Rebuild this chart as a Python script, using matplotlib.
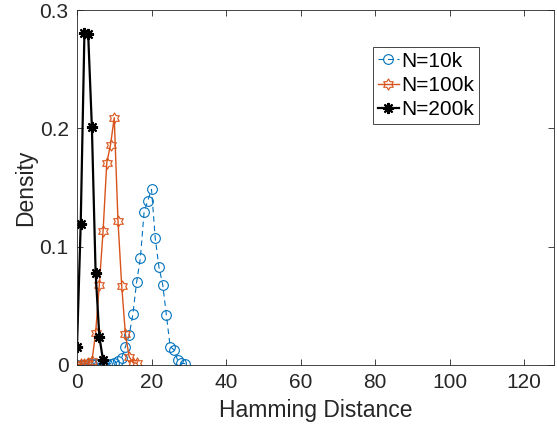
import numpy as np
import matplotlib
matplotlib.use("Agg")
import matplotlib.pyplot as plt
from matplotlib.path import Path

plt.rcParams['font.family'] = ['Liberation Sans', 'DejaVu Sans']

# Hamming distance densities
x_10k = list(range(0, 30))
y_10k = [0.0003, 0.0003, 0.0004, 0.0005, 0.0006, 0.0007, 0.0008, 0.0009, 0.001, 0.0012,
         0.0015, 0.003, 0.006, 0.0155, 0.025, 0.043, 0.070, 0.090, 0.129, 0.139,
         0.1485, 0.107, 0.0826, 0.068, 0.042, 0.0155, 0.013, 0.004, 0.0014, 0.0012]

x_100k = list(range(0, 17))
y_100k = [0.0002, 0.0005, 0.001, 0.0015, 0.003, 0.027, 0.068, 0.113, 0.171, 0.186,
          0.209, 0.122, 0.067, 0.026, 0.007, 0.002, 0.0015]

x_200k = list(range(0, 8))
y_200k = [0.015, 0.119, 0.281, 0.280, 0.201, 0.078, 0.024, 0.004]

labels = ["N=10k", "N=100k", "N=200k"]
xticks = [0, 20, 40, 60, 80, 100, 120]
yticks = [0, 0.1, 0.2, 0.3]
ytick_labels = ["0", "0.1", "0.2", "0.3"]

# six-pointed star like MATLAB's hexagram
ang = np.deg2rad(90 + 30 * np.arange(12))
rad = np.where(np.arange(12) % 2 == 0, 1.0, 1 / np.sqrt(3))
verts = list(zip(rad * np.cos(ang), rad * np.sin(ang)))
verts.append(verts[0])
hexagram = Path(verts, closed=True)

fig = plt.figure(figsize=(5.57, 4.3), dpi=100)
ax = fig.add_axes([0.1382, 0.1512, 0.8564, 0.8255])

ax.plot(x_10k, y_10k, color='#0072BD', lw=0.8, dashes=(5, 3.5), marker='o', ms=7,
        mfc='none', mew=0.8, label=labels[0])
ax.plot(x_100k, y_100k, '-', color='#D95319', lw=1.0, marker=hexagram, ms=8,
        mfc='none', mew=0.8, label=labels[1])
ax.plot(x_200k, y_200k, '-', color='black', lw=1.6, marker=(8, 2, 0), ms=8,
        mew=1.5, label=labels[2])

ax.set_xlim(0, 128)
ax.set_ylim(0, 0.3)
ax.set_xticks(xticks)
ax.set_yticks(yticks)
ax.set_yticklabels(ytick_labels)
ax.tick_params(direction='in', top=True, right=True, labelsize=15,
               colors='#262626', length=4, width=0.6, pad=6)
for s in ax.spines.values():
    s.set_color('#262626')
    s.set_linewidth(0.6)

ax.set_xlabel("Hamming Distance", fontsize=16.5, color='#262626', labelpad=5)
ax.set_ylabel("Density", fontsize=16.5, color='#262626', labelpad=2)

leg = ax.legend(loc='upper left', bbox_to_anchor=(0.62, 0.897), fontsize=15,
                handlelength=1.0, handletextpad=0.12, borderpad=0.25,
                labelspacing=0.25, fancybox=False, framealpha=1,
                borderaxespad=0)
leg.get_frame().set_edgecolor('#262626')
leg.get_frame().set_linewidth(0.6)

fig.savefig("out.png", dpi=100)
